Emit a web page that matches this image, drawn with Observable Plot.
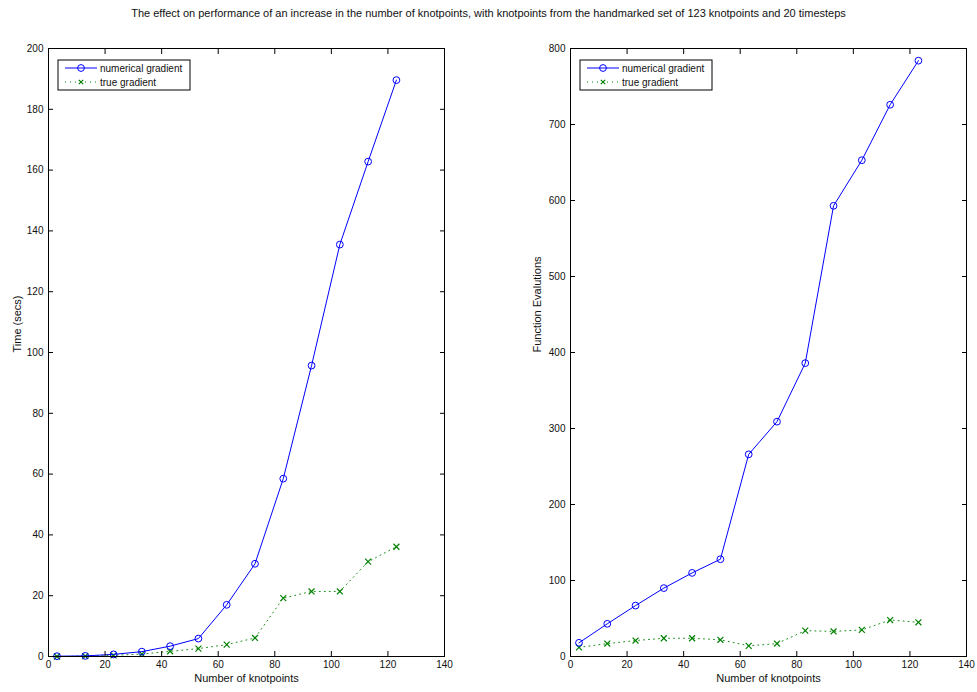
<!DOCTYPE html>
<html><head><meta charset="utf-8">
<script src="https://cdn.jsdelivr.net/npm/d3@7"></script>
<script src="https://cdn.jsdelivr.net/npm/@observablehq/plot@0.6"></script>
<style>
body{margin:0;background:#fff;font-family:"Liberation Sans",Arial,sans-serif;}
#wrap{position:relative;width:977px;height:692px;overflow:hidden;}
#title{position:absolute;left:0;top:7px;width:977px;text-align:center;font-size:11px;color:#111;}
.panel{position:absolute;top:30px;}
</style></head><body>
<div id="wrap">
<div id="title">The effect on performance of an increase in the number of knotpoints, with knotpoints from the handmarked set of 123 knotpoints and 20 timesteps</div>
<div id="left" class="panel" style="left:0px"></div>
<div id="right" class="panel" style="left:488px"></div>
</div>
<script>
const knotpoints = [3, 13, 23, 33, 43, 53, 63, 73, 83, 93, 103, 113, 123];
const timeNumerical = [0.1, 0.2, 0.7, 1.6, 3.4, 5.9, 17.0, 30.5, 58.5, 95.7, 135.5, 162.8, 189.6];
const timeTrue = [0.0, 0.1, 0.4, 0.8, 1.7, 2.6, 3.9, 6.1, 19.2, 21.4, 21.4, 31.2, 36.1];
const evalsNumerical = [18, 43, 67, 90, 110, 128, 266, 309, 386, 593, 653, 726, 784];
const evalsTrue = [12, 17, 21, 24, 24, 22, 14, 17, 34, 33, 35, 48, 45];
const xTicks = [0, 20, 40, 60, 80, 100, 120, 140];
const timeTicks = [0, 20, 40, 60, 80, 100, 120, 140, 160, 180, 200];
const evalTicks = [0, 100, 200, 300, 400, 500, 600, 700, 800];
const seriesNames = ["numerical gradient", "true gradient"];
const xLabel = "Number of knotpoints";
const yLabels = ["Time (secs)", "Function Evalutions"];

const BLUE = "#0000ff", GREEN = "#008000";
const FONT = "'Liberation Sans', Arial, sans-serif";

function panel({width, marginLeft, marginRight, yDomain, yTicks, yLabel, yLabelDx, num, tru}) {
  const numData = knotpoints.map((k, i) => ({x: k, y: num[i]}));
  const truData = knotpoints.map((k, i) => ({x: k, y: tru[i]}));
  const chart = Plot.plot({
    width, height: 662,
    marginTop: 18, marginBottom: 36, marginLeft, marginRight,
    style: {fontFamily: FONT, fontSize: "10px", color: "#111", background: "#fff", overflow: "visible"},
    x: {domain: [0, 140]},
    y: {domain: yDomain},
    marks: [
      Plot.line(truData, {x: "x", y: "y", stroke: GREEN, strokeWidth: 0.9, strokeDasharray: "1,4"}),
      Plot.dot(truData, {x: "x", y: "y", symbol: "times", r: 2.8, stroke: GREEN, strokeWidth: 1.2}),
      Plot.line(numData, {x: "x", y: "y", stroke: BLUE, strokeWidth: 1}),
      Plot.dot(numData, {x: "x", y: "y", symbol: "circle", r: 3.4, stroke: BLUE, fill: "none", strokeWidth: 1}),
      Plot.frame({stroke: "#000", strokeWidth: 1}),
      Plot.axisX(xTicks, {anchor: "bottom", tickSize: -5, tickPadding: 9, stroke: "#000", label: null}),
      Plot.axisX(xTicks, {anchor: "top", tickSize: -5, stroke: "#000", fill: "none", label: null}),
      Plot.axisY(yTicks, {anchor: "left", tickSize: -5, tickPadding: 10, stroke: "#000", label: null}),
      Plot.axisY(yTicks, {anchor: "right", tickSize: -5, stroke: "#000", fill: "none", label: null}),
      Plot.text([xLabel], {frameAnchor: "bottom", dy: 22, lineAnchor: "middle", fontSize: 11, fill: "#111"}),
      Plot.text([yLabel], {frameAnchor: "left", dx: yLabelDx, rotate: -90, lineAnchor: "middle", fontSize: 11, fill: "#111"})
    ]
  });
  // legend box inside frame, top-left
  const svg = d3.select(chart);
  const x0 = marginLeft + 10, y0 = 30;
  const g = svg.append("g").attr("font-family", FONT).attr("font-size", 10).attr("text-anchor", "start");
  g.append("rect").attr("x", x0).attr("y", y0).attr("width", 132).attr("height", 30)
    .attr("fill", "#fff").attr("stroke", "#000").attr("stroke-width", 1);
  const rows = [
    {name: seriesNames[0], color: BLUE, dash: null, marker: "circle"},
    {name: seriesNames[1], color: GREEN, dash: "1,4", marker: "times"}
  ];
  rows.forEach((r, i) => {
    const yy = y0 + 8 + i * 14;
    g.append("line").attr("x1", x0 + 7).attr("x2", x0 + 39).attr("y1", yy).attr("y2", yy)
      .attr("stroke", r.color).attr("stroke-width", 1).attr("stroke-dasharray", r.dash);
    if (r.marker === "circle") {
      g.append("circle").attr("cx", x0 + 23).attr("cy", yy).attr("r", 3.4)
        .attr("fill", "none").attr("stroke", r.color);
    } else {
      const s = 2.2;
      g.append("path").attr("d", `M${x0+23-s},${yy-s}L${x0+23+s},${yy+s}M${x0+23-s},${yy+s}L${x0+23+s},${yy-s}`)
        .attr("stroke", r.color).attr("stroke-width", 1.2);
    }
    g.append("text").attr("x", x0 + 42).attr("y", yy).attr("dy", "0.35em").attr("text-anchor", "start")
      .attr("fill", "#111").text(r.name);
  });
  return chart;
}

document.getElementById("left").appendChild(panel({
  width: 488, marginLeft: 48, marginRight: 44, yDomain: [0, 200], yTicks: timeTicks,
  yLabel: yLabels[0], yLabelDx: -31, num: timeNumerical, tru: timeTrue
}));
document.getElementById("right").appendChild(panel({
  width: 489, marginLeft: 82, marginRight: 11, yDomain: [0, 800], yTicks: evalTicks,
  yLabel: yLabels[1], yLabelDx: -33, num: evalsNumerical, tru: evalsTrue
}));
</script>
</body></html>
